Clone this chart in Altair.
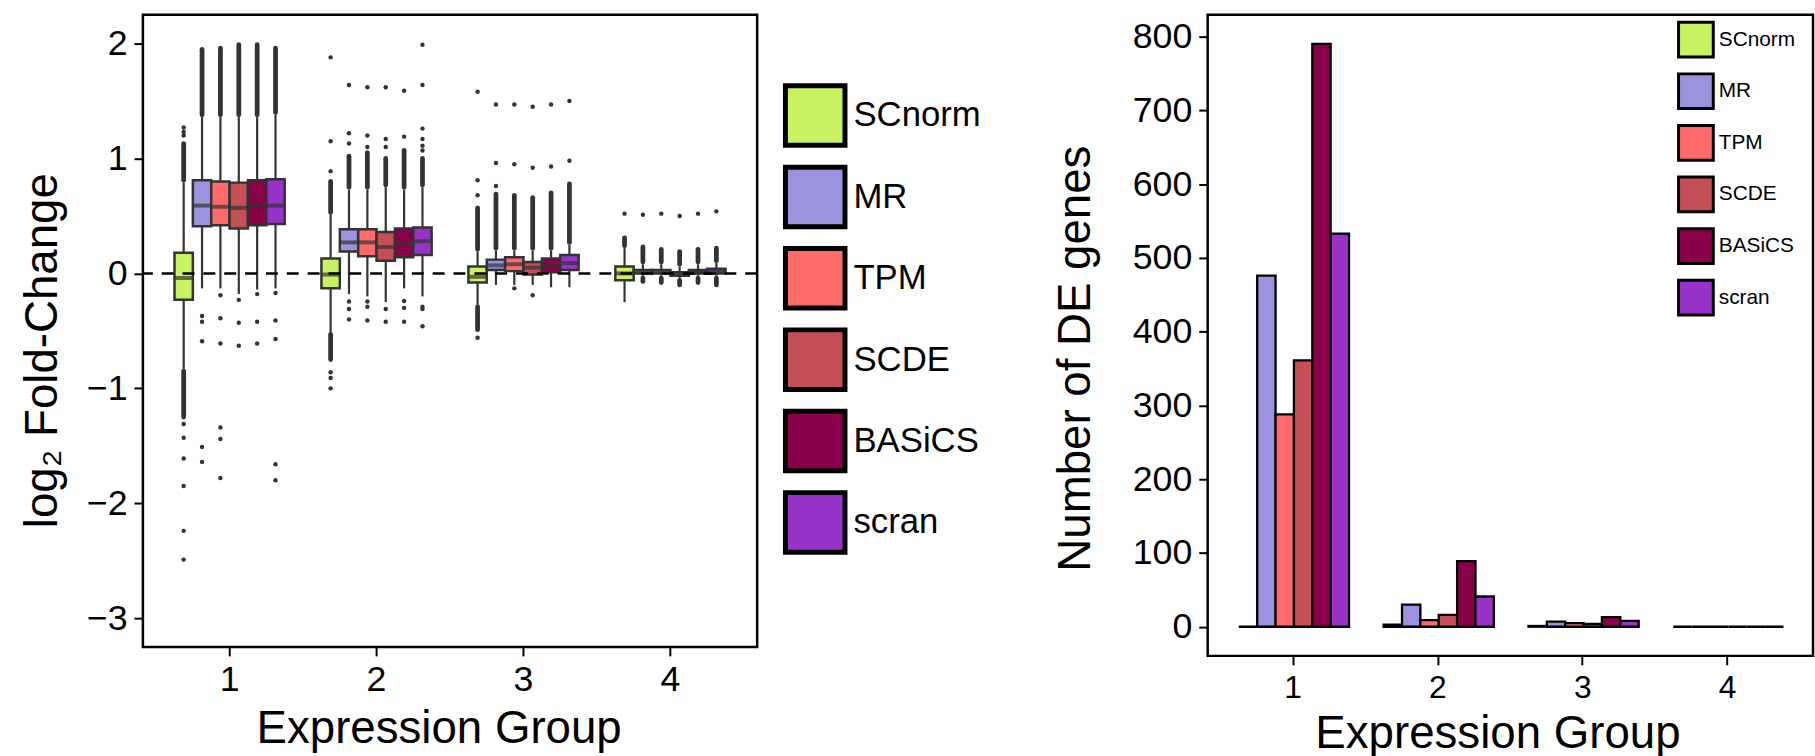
import altair as alt
import pandas as pd

# ---------------- data ----------------
methods = ["SCnorm", "MR", "TPM", "SCDE", "BASiCS", "scran"]
groups = ["1", "2", "3", "4"]
method_colors = ["#C8F262", "#9B93DE", "#FF6B6B", "#C44F57", "#890048", "#9733C9"]

# boxplot statistics, one row per expression group, one column per method
box_q1 = [
    [-0.23, 0.41, 0.42, 0.39, 0.42, 0.43],
    [-0.13, 0.19, 0.15, 0.11, 0.14, 0.16],
    [-0.08, 0.03, 0.02, -0.01, 0.01, 0.03],
    [-0.06, 0.00, 0.00, -0.02, 0.00, 0.00],
]
box_median = [
    [-0.04, 0.59, 0.58, 0.57, 0.59, 0.59],
    [-0.01, 0.27, 0.27, 0.23, 0.26, 0.28],
    [-0.03, 0.07, 0.08, 0.05, 0.07, 0.09],
    [0.00, 0.015, 0.015, -0.005, 0.015, 0.02],
]
box_q3 = [
    [0.18, 0.81, 0.80, 0.79, 0.81, 0.82],
    [0.13, 0.385, 0.385, 0.36, 0.39, 0.40],
    [0.06, 0.12, 0.14, 0.10, 0.13, 0.16],
    [0.06, 0.03, 0.03, 0.01, 0.03, 0.04],
]
whisker_low = [
    [-0.83, -0.13, -0.13, -0.18, -0.14, -0.13],
    [-0.51, -0.18, -0.20, -0.25, -0.13, -0.20],
    [-0.27, -0.10, -0.10, -0.10, -0.12, -0.12],
    [-0.25, -0.02, -0.02, -0.04, -0.02, -0.02],
]
whisker_high = [
    [0.79, 1.36, 1.36, 1.36, 1.36, 1.38],
    [0.51, 0.73, 0.73, 0.75, 0.73, 0.75],
    [0.19, 0.20, 0.20, 0.20, 0.20, 0.25],
    [0.22, 0.08, 0.08, 0.06, 0.08, 0.09],
]
# extent of the densely packed outlier runs beyond the whiskers
dense_high_end = [
    [1.13, 1.95, 1.96, 1.99, 1.99, 1.96],
    [0.80, 1.02, 1.05, 1.00, 1.07, 1.00],
    [0.57, 0.69, 0.68, 0.66, 0.70, 0.78],
    [0.31, 0.23, 0.21, 0.19, 0.21, 0.22],
]
dense_low_end = [
    [-1.25, -0.13, -0.13, -0.18, -0.14, -0.13],
    [-0.75, -0.18, -0.20, -0.25, -0.13, -0.20],
    [-0.49, -0.10, -0.10, -0.10, -0.12, -0.12],
    [-0.25, -0.07, -0.08, -0.10, -0.08, -0.10],
]
# isolated outliers, per group, per method
outliers_g1 = [
    [1.20, 1.23, 1.27, -1.31, -1.43, -1.61, -1.85, -2.24, -2.49],
    [-0.37, -0.42, -0.59, -1.51, -1.64],
    [-0.19, -0.39, -0.61, -1.34, -1.44, -1.78],
    [-0.23, -0.43, -0.63],
    [-0.18, -0.42, -0.61],
    [-0.17, -0.41, -0.57, -1.66, -1.80],
]
outliers_g2 = [
    [0.89, 1.15, 1.88, -0.86, -0.91, -1.00],
    [1.13, 1.22, 1.64, -0.245, -0.31, -0.40],
    [1.10, 1.20, 1.62, -0.245, -0.29, -0.41],
    [1.10, 1.17, 1.62, -0.31, -0.42],
    [1.19, 1.59, -0.24, -0.30, -0.42],
    [1.07, 1.11, 1.17, 1.26, 1.64, 1.99, -0.29, -0.31, -0.46],
]
outliers_g3 = [
    [0.68, 0.81, 1.58, -0.56],
    [0.76, 0.96, 1.47],
    [0.95, 1.47, -0.13],
    [0.92, 1.45, -0.19],
    [0.93, 1.47],
    [0.98, 1.50],
]
outliers_g4 = [
    [0.52],
    [0.51],
    [0.52],
    [0.50],
    [0.52],
    [0.54],
]

# number of DE genes, per group, per method
de_counts = [
    [0, 476, 288, 361, 790, 533],
    [3, 30, 9, 16, 89, 41],
    [1, 7, 5, 4, 13, 8],
    [0, 0, 0, 0, 0, 0],
]

# ---------------- tables ----------------
box_rows, run_rows, out_rows, de_rows = [], [], [], []
all_outliers = [outliers_g1, outliers_g2, outliers_g3, outliers_g4]
for gi, g in enumerate(groups):
    for mi, m in enumerate(methods):
        box_rows.append(dict(group=g, method=m, q1=box_q1[gi][mi], med=box_median[gi][mi],
                             q3=box_q3[gi][mi], wlo=whisker_low[gi][mi], whi=whisker_high[gi][mi]))
        if dense_high_end[gi][mi] > whisker_high[gi][mi]:
            run_rows.append(dict(group=g, method=m, a=whisker_high[gi][mi] + 0.02, b=dense_high_end[gi][mi]))
        if dense_low_end[gi][mi] < whisker_low[gi][mi]:
            run_rows.append(dict(group=g, method=m, a=whisker_low[gi][mi] - 0.02, b=dense_low_end[gi][mi]))
        for v in all_outliers[gi][mi]:
            out_rows.append(dict(group=g, method=m, value=v))
        de_rows.append(dict(group=g, method=m, count=de_counts[gi][mi]))

box_df = pd.DataFrame(box_rows)
run_df = pd.DataFrame(run_rows)
out_df = pd.DataFrame(out_rows)
de_df = pd.DataFrame(de_rows)

FONT = "Liberation Sans"
DARK = "#333333"

# ---------------- left panel: boxplots ----------------
xl_scale = alt.Scale(domain=groups, paddingInner=0.25, paddingOuter=0.215)
xo_scale = alt.Scale(domain=methods, paddingInner=0, paddingOuter=0)
yl_scale = alt.Scale(domain=[-3.25, 2.25], nice=False, zero=False)
xl_axis = alt.Axis(title="Expression Group", labelAngle=0, labelPadding=7, titlePadding=9, titleX=298)
yl_axis = alt.Axis(title="log₂ Fold-Change", values=[-3, -2, -1, 0, 1, 2],
                   labelPadding=7, titlePadding=20, titleY=338)

def xl():
    return alt.X("group:N", scale=xl_scale, axis=xl_axis)

def xol():
    return alt.XOffset("method:N", scale=xo_scale)

whiskers = alt.Chart(box_df).mark_rule(color=DARK, strokeWidth=2.2).encode(
    x=xl(), xOffset=xol(), y=alt.Y("wlo:Q", scale=yl_scale, axis=yl_axis), y2="whi:Q")
runs = alt.Chart(run_df).mark_rule(color=DARK, strokeWidth=4.8, strokeCap="round").encode(
    x=xl(), xOffset=xol(), y=alt.Y("a:Q", scale=yl_scale, axis=yl_axis), y2="b:Q")
points = alt.Chart(out_df).mark_circle(color=DARK, size=20, opacity=1).encode(
    x=xl(), xOffset=xol(), y=alt.Y("value:Q", scale=yl_scale, axis=yl_axis))
boxes = alt.Chart(box_df).mark_bar(stroke=DARK, strokeWidth=2.5).encode(
    x=xl(), xOffset=xol(), y=alt.Y("q1:Q", scale=yl_scale, axis=yl_axis), y2="q3:Q",
    fill=alt.Fill("method:N", scale=alt.Scale(domain=methods, range=method_colors),
                  legend=alt.Legend(title=None, orient="none", legendX=645, legendY=69,
                                    symbolType="square", symbolSize=3600,
                                    symbolStrokeColor="black", symbolStrokeWidth=5,
                                    labelFontSize=35, labelFont=FONT, labelColor="black",
                                    labelOffset=6, rowPadding=1, padding=0)))
medians = alt.Chart(box_df).mark_tick(color=DARK, size=18, thickness=4).encode(
    x=xl(), xOffset=xol(), y=alt.Y("med:Q", scale=yl_scale, axis=yl_axis))
zero_line = alt.Chart(pd.DataFrame({"zero": [0]})).mark_rule(
    color="black", strokeDash=[12, 9], strokeWidth=2.5).encode(
    y=alt.Y("zero:Q", scale=yl_scale, axis=yl_axis))

left = alt.layer(whiskers, runs, points, boxes, medians, zero_line).properties(width=619, height=637)

# ---------------- right panel: DE gene counts ----------------
xr_scale = alt.Scale(domain=groups, paddingInner=0.25, paddingOuter=0.215)
yr_scale = alt.Scale(domain=[-39.5, 829.5], nice=False, zero=False)
right = alt.Chart(de_df).mark_bar(stroke="black", strokeWidth=2.3).encode(
    x=alt.X("group:N", scale=xr_scale,
            axis=alt.Axis(title="Expression Group", labelAngle=0, labelPadding=8,
                          labelFontSize=32, titlePadding=8, titleX=292)),
    xOffset=alt.XOffset("method:N", scale=alt.Scale(domain=methods, paddingInner=0, paddingOuter=0)),
    y=alt.Y("count:Q", scale=yr_scale,
            axis=alt.Axis(title="Number of DE genes", values=list(range(0, 801, 100)),
                          labelPadding=7, titlePadding=33, titleY=346)),
    y2=alt.datum(0),
    fill=alt.Fill("method:N", scale=alt.Scale(domain=methods, range=method_colors),
                  legend=alt.Legend(title=None, orient="none", legendX=473, legendY=6,
                                    symbolType="square", symbolSize=1225,
                                    symbolStrokeColor="black", symbolStrokeWidth=3,
                                    labelFontSize=21, labelFont=FONT, labelColor="black",
                                    labelOffset=4, rowPadding=4, padding=0)),
).properties(width=610, height=646)

chart = alt.hconcat(left, right, spacing=68).resolve_scale(fill="independent").resolve_legend(
    fill="independent"
).properties(
    padding={"left": 18, "top": 10, "right": 0, "bottom": 0}
).configure(font=FONT).configure_view(
    stroke="black", strokeWidth=2.5
).configure_axis(
    labelFont=FONT, titleFont=FONT, labelFontSize=36, titleFontSize=46,
    titleFontWeight="normal", labelColor="black", titleColor="black",
    tickColor="black", tickWidth=2, tickSize=9, domain=False, grid=False,
)

chart.save("out.html", embed_options={"renderer": "svg", "actions": False})
